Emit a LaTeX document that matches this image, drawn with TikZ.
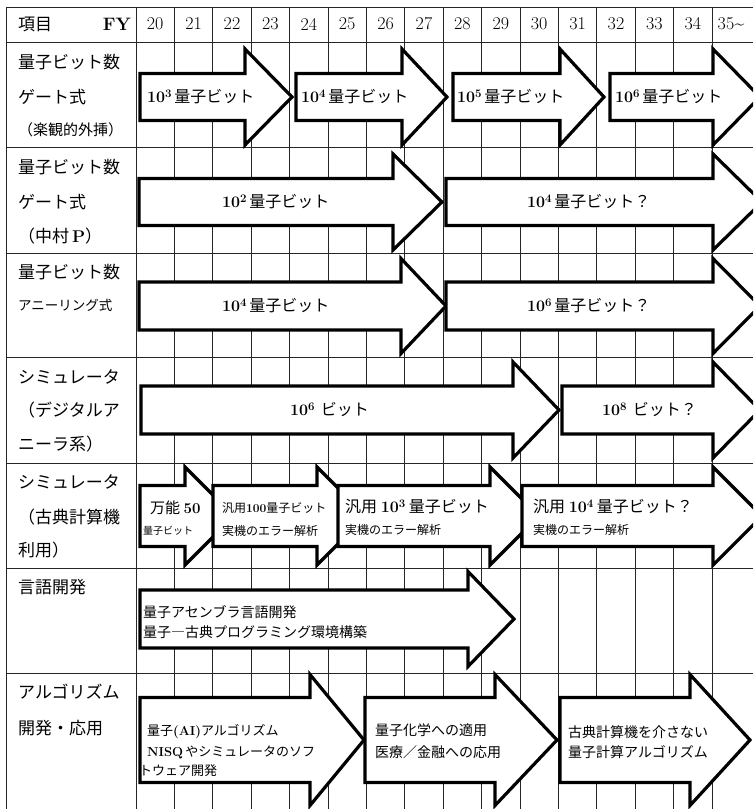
\documentclass[tikz,border=0pt]{standalone}
\usepackage{fontspec}
\newfontfamily\jp{Noto Sans CJK JP}
\newcommand\lat[1]{{\rmfamily\bfseries #1}}
\newcommand\tp[1]{\lat{10\raisebox{0.33em}{\fontsize{11.5}{12}\selectfont #1}}}
\newcommand\fatarrow[6]{% x0, head base, tip, centre y, body half, head half
  \draw[arr] (#1,#4-#5) -- (#2,#4-#5) -- (#2,#4-#6) -- (#3,#4) -- (#2,#4+#6) -- (#2,#4+#5) -- (#1,#4+#5) -- cycle;}
\tikzset{
  grid/.style={draw=black!85, line width=0.8pt},
  arr/.style={draw=black, fill=white, line width=3.2pt, line join=miter},
  hd/.style={inner sep=0, font=\fontsize{18}{20}\selectfont},
  lab/.style={anchor=west, inner sep=0, font=\jp\fontsize{17}{20}\selectfont},
  labs/.style={anchor=west, inner sep=0, font=\jp\fontsize{15}{18}\selectfont},
  labxs/.style={anchor=west, inner sep=0, font=\jp\fontsize{13.5}{16}\selectfont},
  t16/.style={anchor=west, inner sep=0, font=\jp\fontsize{16}{19}\selectfont},
  t15/.style={anchor=west, inner sep=0, font=\jp\fontsize{15}{18}\selectfont},
  t14/.style={anchor=west, inner sep=0, font=\jp\fontsize{14}{17}\selectfont},
  t13/.style={anchor=west, inner sep=0, font=\jp\fontsize{13}{16}\selectfont},
  t12/.style={anchor=west, inner sep=0, font=\jp\fontsize{12}{14}\selectfont},
  t10/.style={anchor=west, inner sep=0, font=\jp\fontsize{10}{12}\selectfont},
}
\begin{document}
\begin{tikzpicture}[x=1pt,y=-1pt]
\useasboundingbox (0,0) rectangle (753,809);
\fill[white] (0,0) rectangle (753,809);
\clip (0,0) rectangle (753,809);
% grid
\foreach \yy in {7,42,147,253,357,463,568,673} \draw[grid] (6,\yy) -- (753,\yy);
\draw[grid] (6,7) -- (6,809);
\draw[grid] (136,7) -- (136,809);
\foreach \k in {1,...,15} \draw[grid] (136+38.4*\k,7) -- (136+38.4*\k,809);
% header
\node[lab] (hitem) at (18,24) {項目};
\node[hd] (hfy) at (117,24) {\bfseries FY};
\foreach \i [evaluate=\i as \xc using 136+38.4*(\i+0.5), evaluate=\i as \yr using int(20+\i)] in {0,...,14}
  \node[hd] (yr\i) at (\xc,24) {\yr};
\node[hd] (yr15) at (731,24) {35\textasciitilde};
% row labels
\node[lab] (l1a) at (18,62) {量子ビット数};
\node[lab] (l1b) at (18,97) {ゲート式};
\node[labs] (l1c) at (18,130) {（楽観的外挿）};
\node[lab] (l2a) at (18,167) {量子ビット数};
\node[lab] (l2b) at (18,202) {ゲート式};
\node[lab] (l2c) at (18,236) {（中村\,\lat{P}）};
\node[lab] (l3a) at (18,272) {量子ビット数};
\node[labxs] (l3b) at (18,305) {アニーリング式};
\node[lab] (l4a) at (18,377) {シミュレータ};
\node[lab] (l4b) at (18,410) {（デジタルア};
\node[lab] (l4c) at (18,444) {ニーラ系）};
\node[lab] (l5a) at (18,482) {シミュレータ};
\node[lab] (l5b) at (18,517) {（古典計算機};
\node[lab] (l5c) at (18,550) {利用）};
\node[lab] (l6a) at (18,587) {言語開発};
\node[lab] (l7a) at (18,692) {アルゴリズム};
\node[lab] (l7b) at (18,728) {開発・応用};
% row 1
\fatarrow{140}{245}{292}{97}{23.5}{48}
\fatarrow{296}{402}{447}{97}{23.5}{48}
\fatarrow{453}{560}{604}{97}{23.5}{48}
\fatarrow{610}{713}{760}{97}{23.5}{48}
\node[t16] (a11) at (147,97) {\tp{3}\,量子ビット};
\node[t16] (a12) at (301,97) {\tp{4}\,量子ビット};
\node[t16] (a13) at (457,97) {\tp{5}\,量子ビット};
\node[t16] (a14) at (615,97) {\tp{6}\,量子ビット};
% row 2
\fatarrow{139}{393}{442}{202}{23.5}{48}
\fatarrow{446}{713}{762}{202}{23.5}{48}
\node[t16] (a21) at (222,202) {\tp{2}\,量子ビット};
\node[t16] (a22) at (527,202) {\tp{4}\,量子ビット？};
% row 3
\fatarrow{139}{401}{446}{306}{24}{47.5}
\fatarrow{446}{713}{760}{306}{24}{47.5}
\node[t16] (a31) at (222,306) {\tp{4}\,量子ビット};
\node[t16] (a32) at (527,306) {\tp{6}\,量子ビット？};
% row 4
\fatarrow{141}{513}{559}{410}{24}{48}
\fatarrow{562}{713}{760}{410}{24}{48}
\node[t16] (a41) at (290,410) {\tp{6}\ \,ビット};
\node[t16] (a42) at (602,410) {\tp{8}\ \,ビット？};
% row 5
\fatarrow{140}{185}{234}{516}{30.5}{49}
\fatarrow{213}{317}{366}{516}{30.5}{49}
\fatarrow{338}{490}{539}{516}{30.5}{49}
\fatarrow{522}{713}{762}{516}{30.5}{49}
\node[t15] (a51a) at (150,508) {万能 \lat{50}};
\node[t10] (a51b) at (143,531) {量子ビット};
\node[t12] (a52a) at (222,508) {汎用\lat{100}量子ビット};
\node[t12] (a52b) at (222,531) {実機のエラー解析};
\node[t16] (a53a) at (345,507) {汎用 \tp{3} 量子ビット};
\node[t12] (a53b) at (345,530) {実機のエラー解析};
\node[t16] (a54a) at (533,507) {汎用 \tp{4} 量子ビット？};
\node[t12] (a54b) at (533,530) {実機のエラー解析};
% row 6
\fatarrow{140}{468}{514}{619}{29}{47.5}
\node[t14] (a61a) at (143,612) {量子アセンブラ言語開発};
\node[t14] (a61b) at (143,632) {量子―古典プログラミング環境構築};
% row 7
\fatarrow{140}{310}{364}{740}{42.5}{65.5}
\fatarrow{365}{495}{557}{740}{42.5}{65.5}
\fatarrow{560}{690}{750}{740}{42.5}{65.5}
\node[t13] (a71a) at (147,732) {量子\lat{(AI)}アルゴリズム};
\node[t13] (a71b) at (147,752) {\lat{NISQ}\,やシミュレータのソフ};
\node[t13] (a71c) at (139,771) {トウェア開発};
\node[t14] (a72a) at (375,730) {量子化学への適用};
\node[t14] (a72b) at (375,752) {医療／金融への応用};
\node[t14] (a73a) at (568,732) {古典計算機を介さない};
\node[t14] (a73b) at (568,752) {量子計算アルゴリズム};
\end{tikzpicture}
\end{document}
